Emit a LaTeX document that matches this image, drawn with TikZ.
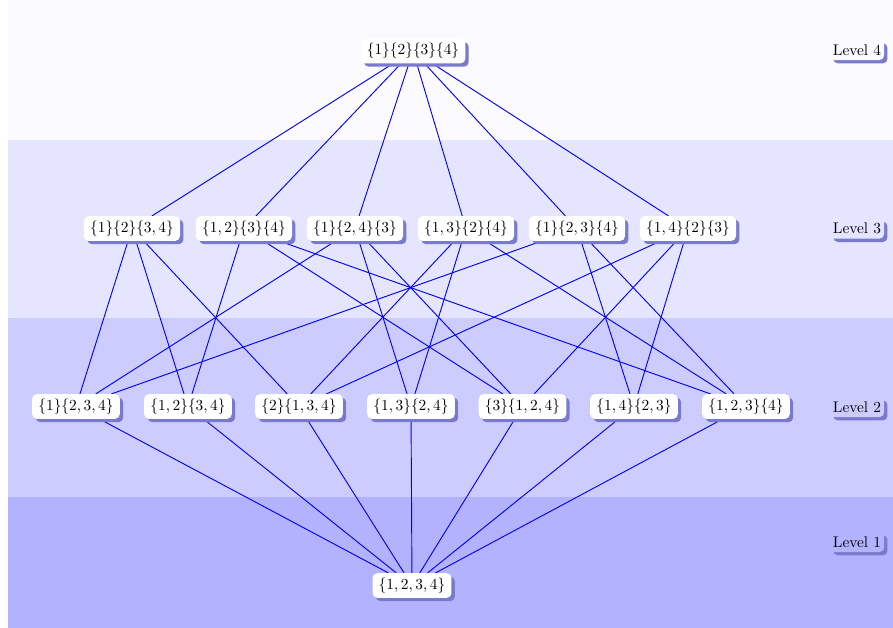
\documentclass[tikz,border=0pt]{standalone}
\usetikzlibrary{shadows}
\definecolor{shadowc}{RGB}{122,122,204}
\pgfdeclarelayer{bg}
\pgfdeclarelayer{edges}
\pgfsetlayers{bg,edges,main}
\tikzset{
  setnode/.style={draw=none, fill=white, rounded corners=3pt, inner xsep=4pt, inner ysep=3pt,
    drop shadow={fill=shadowc, opacity=1, shadow xshift=2.2pt, shadow yshift=-2.2pt}},
  levellabel/.style={rounded corners=3pt, inner xsep=2pt, inner ysep=3pt,
    drop shadow={fill=shadowc, opacity=1, shadow xshift=2.2pt, shadow yshift=-2.2pt}},
  edge/.style={draw=blue, line width=0.6pt}
}
\begin{document}
\begin{tikzpicture}[x=0.65pt, y=-0.65pt]
\useasboundingbox (0,0) rectangle (893,628);
\begin{pgfonlayer}{bg}
  \fill[blue!2] (8,0) rectangle (893,140);
  \fill[blue!10] (8,140) rectangle (893,318);
  \fill[blue!20] (8,318) rectangle (893,497);
  \fill[blue!30] (8,497) rectangle (893,628);
\end{pgfonlayer}
% level 4
\node[setnode] (top) at (413,51) {$\{1\}\{2\}\{3\}\{4\}$};
% level 3
\node[setnode] (A) at (132,228.5) {$\{1\}\{2\}\{3,4\}$};
\node[setnode] (B) at (244,228.5) {$\{1,2\}\{3\}\{4\}$};
\node[setnode] (C) at (355,228.5) {$\{1\}\{2,4\}\{3\}$};
\node[setnode] (D) at (466,228.5) {$\{1,3\}\{2\}\{4\}$};
\node[setnode] (E) at (577,228.5) {$\{1\}\{2,3\}\{4\}$};
\node[setnode] (F) at (688,228.5) {$\{1,4\}\{2\}\{3\}$};
% level 2
\node[setnode] (a) at (76,406.5) {$\{1\}\{2,3,4\}$};
\node[setnode] (b) at (188,406.5) {$\{1,2\}\{3,4\}$};
\node[setnode] (c) at (299,406.5) {$\{2\}\{1,3,4\}$};
\node[setnode] (d) at (411,406.5) {$\{1,3\}\{2,4\}$};
\node[setnode] (e) at (522.5,406.5) {$\{3\}\{1,2,4\}$};
\node[setnode] (f) at (634,406.5) {$\{1,4\}\{2,3\}$};
\node[setnode] (g) at (746,406.5) {$\{1,2,3\}\{4\}$};
% level 1
\node[setnode] (bot) at (412,585.5) {$\{1,2,3,4\}$};
% level labels
\node[levellabel, fill=blue!2] (L4) at (857,50) {Level 4};
\node[levellabel, fill=blue!10] (L3) at (857,228.5) {Level 3};
\node[levellabel, fill=blue!20] (L2) at (857,407) {Level 2};
\node[levellabel, fill=blue!30] (L1) at (857,542) {Level 1};
\begin{pgfonlayer}{edges}
  \foreach \n in {A,B,C,D,E,F} \draw[edge] (top) -- (\n);
  \foreach \u/\l in {A/a,A/b,A/c, B/b,B/e,B/g, C/a,C/d,C/e, D/c,D/d,D/g, E/a,E/f,E/g, F/c,F/e,F/f}
    \draw[edge] (\u) -- (\l);
  \foreach \n in {a,b,c,d,e,f,g} \draw[edge] (\n) -- (bot);
\end{pgfonlayer}
\end{tikzpicture}
\end{document}
